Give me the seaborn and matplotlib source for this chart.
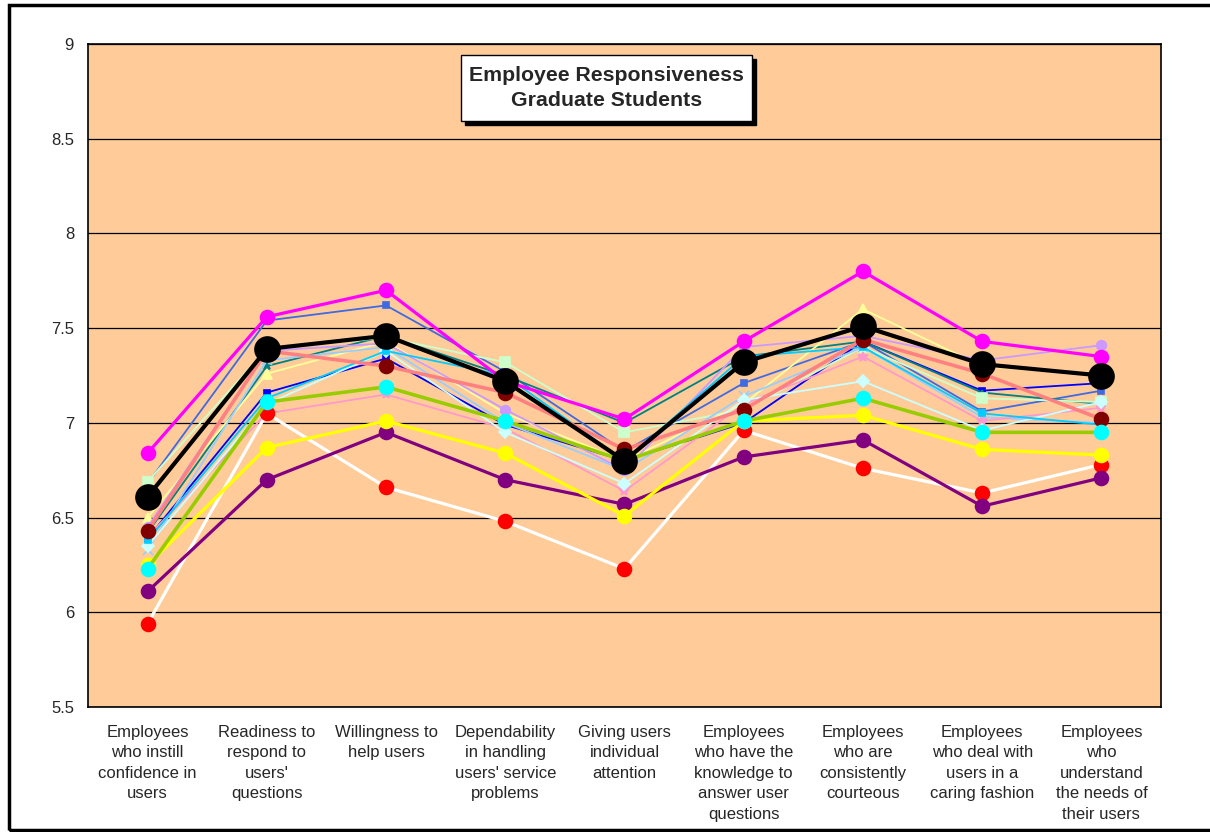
import matplotlib
matplotlib.use('Agg')
import matplotlib.pyplot as plt
import matplotlib.patches as patches
import seaborn as sns

# categories on the x axis
categories = [
    "Employees\nwho instill\nconfidence in\nusers",
    "Readiness to\nrespond to\nusers'\nquestions",
    "Willingness to\nhelp users",
    "Dependability\nin handling\nusers' service\nproblems",
    "Giving users\nindividual\nattention",
    "Employees\nwho have the\nknowledge to\nanswer user\nquestions",
    "Employees\nwho are\nconsistently\ncourteous",
    "Employees\nwho deal with\nusers in a\ncaring fashion",
    "Employees\nwho\nunderstand\nthe needs of\ntheir users",
]
x_pos = list(range(len(categories)))

y_ticks = [5.5, 6, 6.5, 7, 7.5, 8, 8.5, 9]
y_tick_labels = ['5.5', '6', '6.5', '7', '7.5', '8', '8.5', '9']

# series values
royal = [6.68, 7.54, 7.62, 7.27, 6.85, 7.21, 7.43, 7.06, 7.17]
blue = [6.39, 7.16, 7.34, 6.99, 6.80, 7.00, 7.43, 7.17, 7.21]
teal = [6.42, 7.30, 7.46, 7.25, 7.00, 7.35, 7.43, 7.16, 7.10]
mint = [6.69, 7.39, 7.45, 7.32, 6.95, 7.07, 7.40, 7.13, 7.11]
cream = [6.50, 7.26, 7.43, 7.05, 6.80, 7.10, 7.60, 7.30, 7.25]
lavender = [6.45, 7.38, 7.42, 7.07, 6.75, 7.40, 7.46, 7.33, 7.41]
skyblue = [6.33, 7.33, 7.40, 7.00, 6.75, 7.14, 7.40, 7.03, 7.00]
pink = [6.40, 7.05, 7.15, 6.97, 6.64, 7.10, 7.35, 7.01, 7.08]
pale_cyan = [6.35, 7.10, 7.38, 6.95, 6.68, 7.12, 7.22, 6.96, 7.11]
turquoise = [6.38, 7.13, 7.38, 7.25, 6.80, 7.35, 7.40, 7.05, 6.99]
salmon = [6.43, 7.38, 7.30, 7.16, 6.86, 7.07, 7.44, 7.26, 7.02]
white_red = [5.94, 7.05, 6.66, 6.48, 6.23, 6.96, 6.76, 6.63, 6.78]
purple = [6.11, 6.70, 6.95, 6.70, 6.57, 6.82, 6.91, 6.56, 6.71]
yellow = [6.25, 6.87, 7.01, 6.84, 6.51, 7.01, 7.04, 6.86, 6.83]
green = [6.23, 7.11, 7.19, 7.01, 6.80, 7.01, 7.13, 6.95, 6.95]
magenta = [6.84, 7.56, 7.70, 7.22, 7.02, 7.43, 7.80, 7.43, 7.35]
average = [6.61, 7.39, 7.46, 7.22, 6.80, 7.32, 7.51, 7.31, 7.25]

# (values, line colour, line width, marker, marker size, marker face colour)
series = [
    (royal, '#4169e1', 1.3, 's', 4, '#4169e1'),
    (blue, '#0000ff', 1.3, 's', 4, '#0000ff'),
    (teal, '#008080', 1.3, '^', 4, '#008080'),
    (mint, '#ccffcc', 1.3, 's', 7, '#ccffcc'),
    (cream, '#ffff99', 1.3, '^', 7, '#ffff99'),
    (lavender, '#cc99ff', 1.3, 'o', 7, '#cc99ff'),
    (skyblue, '#99ccff', 1.3, 'x', 7, '#99ccff'),
    (pink, '#ff99cc', 1.3, '*', 7, '#ff99cc'),
    (pale_cyan, '#ccffff', 1.3, 'D', 6, '#ccffff'),
    (turquoise, '#00ccff', 1.3, 's', 4, '#00ccff'),
    (salmon, '#ff8080', 2.6, 'o', 10, '#800000'),
    (white_red, '#ffffff', 2.3, 'o', 10, '#ff0000'),
    (purple, '#800080', 2.3, 'o', 10, '#800080'),
    (yellow, '#ffff00', 2.3, 'o', 10, '#ffff00'),
    (green, '#99cc00', 2.6, 'o', 10, '#00ffff'),
    (magenta, '#ff00ff', 2.3, 'o', 10, '#ff00ff'),
    (average, '#000000', 3.0, 'o', 18, '#000000'),
]

sns.set_style('white')
plt.rcParams['font.family'] = ['Liberation Sans', 'DejaVu Sans']

fig = plt.figure(figsize=(12.1, 8.32), dpi=100)
ax = fig.add_axes([0.0727, 0.1502, 0.8868, 0.7969])
ax.set_facecolor('#ffcc99')

for y in y_ticks:
    ax.axhline(y, color='black', linewidth=0.9, zorder=1)

for i, (vals, col, lw, mk, ms, mfc) in enumerate(series):
    sns.lineplot(x=x_pos, y=vals, ax=ax, color=col, linewidth=lw, marker=mk,
                 markersize=ms, markerfacecolor=mfc, markeredgecolor=mfc,
                 markeredgewidth=1.2, sort=False, estimator=None, zorder=3 + i)

ax.set_xlim(-0.5, len(categories) - 0.5)
ax.set_ylim(5.5, 9)
ax.set_yticks(y_ticks)
ax.set_yticklabels(y_tick_labels, fontsize=12)
ax.set_xticks(x_pos)
ax.set_xticklabels(categories, fontsize=12, linespacing=1.45, va='top')
ax.set_xticks([p - 0.5 for p in x_pos] + [len(categories) - 0.5], minor=True)
ax.tick_params(axis='x', which='major', length=0, pad=13)
ax.tick_params(axis='x', which='minor', length=6, width=1, color='black', direction='out')
ax.tick_params(axis='y', which='major', length=6, width=1, color='black', direction='out', pad=4)
ax.set_xlabel('')
ax.set_ylabel('')
for sp in ax.spines.values():
    sp.set_visible(True)
    sp.set_color('black')
    sp.set_linewidth(1.2)

# title box with shadow
W, H = 1210, 832
bx0, by0, bx1, by1 = 461, 55, 752, 121
fig.patches.append(patches.Rectangle((bx0 / W + 4 / W, 1 - (by1 + 4) / H), (bx1 - bx0) / W, (by1 - by0) / H,
                                     transform=fig.transFigure, facecolor='black', edgecolor='black', zorder=30))
fig.patches.append(patches.Rectangle((bx0 / W, 1 - by1 / H), (bx1 - bx0) / W, (by1 - by0) / H,
                                     transform=fig.transFigure, facecolor='white', edgecolor='black',
                                     linewidth=1, zorder=31))
fig.text((bx0 + bx1) / 2 / W, 1 - (by0 + by1) / 2 / H, 'Employee Responsiveness\nGraduate Students',
         ha='center', va='center', fontsize=15.3, fontweight='bold', linespacing=1.45, zorder=32)

# outer chart border (cut off on the right)
fig.patches.append(patches.Rectangle((9 / W, 2 / H), 1.05, 825 / H, transform=fig.transFigure,
                                     facecolor='none', edgecolor='black', linewidth=2.5, clip_on=False))

fig.savefig('out.png', dpi=100)
